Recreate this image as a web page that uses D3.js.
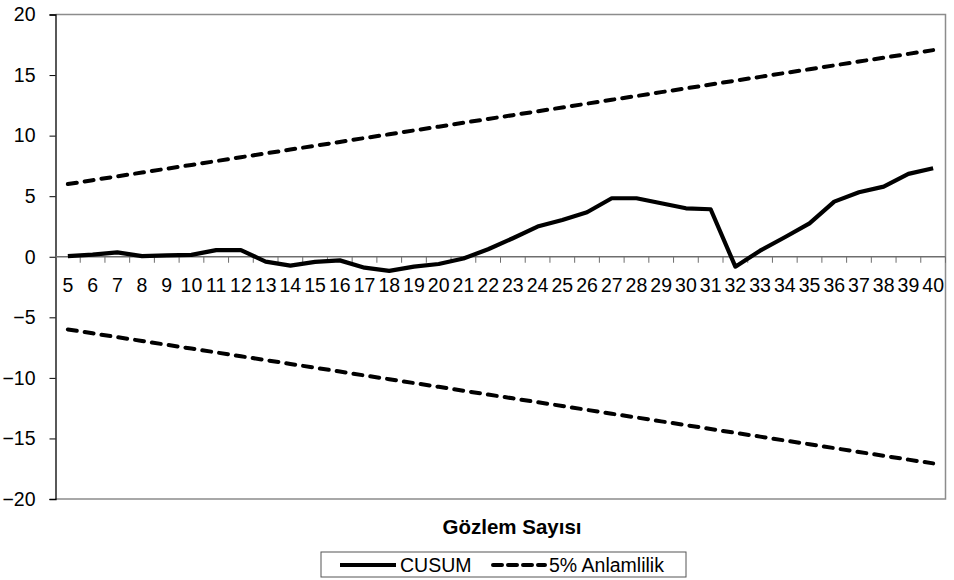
<!DOCTYPE html>
<html>
<head>
<meta charset="utf-8">
<script src="https://cdn.jsdelivr.net/npm/d3@7"></script>
<style>
  html, body { margin: 0; padding: 0; background: #fff; }
  svg { display: block; font-family: "Liberation Sans", Arial, sans-serif; }
</style>
</head>
<body>
<svg id="chart" width="954" height="580"></svg>
<script>
// Observation numbers on the x axis
const observations = [5,6,7,8,9,10,11,12,13,14,15,16,17,18,19,20,21,22,23,24,25,26,27,28,29,30,31,32,33,34,35,36,37,38,39,40];

// CUSUM statistic for each observation
const cusum = [0.05,0.18,0.36,0.05,0.12,0.15,0.55,0.55,-0.40,-0.73,-0.42,-0.30,-0.90,-1.17,-0.82,-0.60,-0.15,0.62,1.53,2.49,3.04,3.67,4.83,4.83,4.42,4.00,3.92,-0.82,0.50,1.61,2.76,4.55,5.32,5.79,6.84,7.31];

// 5% significance bounds
const upperBound = [6.00,6.32,6.64,6.95,7.27,7.58,7.90,8.22,8.53,8.85,9.16,9.48,9.80,10.11,10.43,10.74,11.06,11.38,11.69,12.01,12.32,12.64,12.96,13.27,13.59,13.90,14.22,14.54,14.85,15.17,15.48,15.80,16.12,16.43,16.75,17.06];
const lowerBound = [-6.00,-6.32,-6.64,-6.95,-7.27,-7.58,-7.90,-8.22,-8.53,-8.85,-9.16,-9.48,-9.80,-10.11,-10.43,-10.74,-11.06,-11.38,-11.69,-12.01,-12.32,-12.64,-12.96,-13.27,-13.59,-13.90,-14.22,-14.54,-14.85,-15.17,-15.48,-15.80,-16.12,-16.43,-16.75,-17.06];

// Y axis ticks
const yTicks = [-20,-15,-10,-5,0,5,10,15,20];

const xTitle = "Gözlem Sayısı";
const seriesNames = ["CUSUM", "5% Anlamlilik"];

const svg = d3.select("#chart");
const plot = { left: 55.5, right: 945.5, top: 14.5, bottom: 499 };
const labelSize = 19.5;

const x = d3.scaleBand()
  .domain(observations)
  .range([plot.left, plot.right])
  .paddingInner(0).paddingOuter(0);

const y = d3.scaleLinear()
  .domain([-20, 20])
  .range([plot.bottom, plot.top]);

const cx = d => x(d) + x.bandwidth() / 2;

// plot frame (top, right, bottom in gray)
svg.append("path")
  .attr("d", `M${plot.left},${plot.top}H${plot.right}V${plot.bottom}H${plot.left}`)
  .attr("fill", "none")
  .attr("stroke", "#8c8c8c")
  .attr("stroke-width", 1.5);

// Y axis
const yAxis = d3.axisLeft(y).tickValues(yTicks).tickSize(6).tickPadding(14).tickFormat(d3.format("d"));
const gy = svg.append("g").attr("transform", `translate(${plot.left},0)`).call(yAxis);
gy.select(".domain").attr("stroke", "#000").attr("stroke-width", 1.3);
gy.selectAll(".tick line").attr("stroke", "#000").attr("stroke-width", 1);
gy.selectAll(".tick text")
  .attr("font-size", labelSize)
  .attr("fill", "#000")
  .attr("font-family", "'Liberation Sans', Arial, sans-serif");

// X axis along zero line, ticks at category boundaries
const zeroY = y(0);
const gx = svg.append("g").attr("transform", `translate(0,${zeroY})`);
gx.append("line")
  .attr("x1", plot.left).attr("x2", plot.right)
  .attr("stroke", "#6e6e6e").attr("stroke-width", 1.3);
observations.forEach(d => {
  const bx = x(d) + x.bandwidth();
  gx.append("line")
    .attr("x1", bx).attr("x2", bx)
    .attr("y1", 0).attr("y2", 6)
    .attr("stroke", "#6e6e6e").attr("stroke-width", 1);
});
gx.selectAll("text.xl")
  .data(observations)
  .join("text")
  .attr("class", "xl")
  .attr("x", d => cx(d))
  .attr("y", 35.5)
  .attr("text-anchor", "middle")
  .attr("font-size", labelSize)
  .attr("fill", "#000")
  .text(d => d);

// Lines
const line = d3.line().x((d, i) => cx(observations[i])).y(d => y(d));

svg.append("path").datum(upperBound)
  .attr("d", line).attr("fill", "none")
  .attr("stroke", "#000").attr("stroke-width", 4)
  .attr("stroke-dasharray", "9,8").attr("stroke-linecap", "round");

svg.append("path").datum(lowerBound)
  .attr("d", line).attr("fill", "none")
  .attr("stroke", "#000").attr("stroke-width", 4)
  .attr("stroke-dasharray", "9,8").attr("stroke-linecap", "round");

svg.append("path").datum(cusum)
  .attr("d", line).attr("fill", "none")
  .attr("stroke", "#000").attr("stroke-width", 4.2)
  .attr("stroke-linejoin", "round");

// X axis title
svg.append("text")
  .attr("x", 512).attr("y", 534)
  .attr("text-anchor", "middle")
  .attr("font-size", 20.5).attr("font-weight", "bold")
  .attr("fill", "#000")
  .text(xTitle);

// Legend
const lg = svg.append("g");
lg.append("rect")
  .attr("x", 321).attr("y", 552).attr("width", 365).attr("height", 25)
  .attr("fill", "#fff").attr("stroke", "#555").attr("stroke-width", 1);
lg.append("line")
  .attr("x1", 340).attr("x2", 396).attr("y1", 565).attr("y2", 565)
  .attr("stroke", "#000").attr("stroke-width", 4);
lg.append("text")
  .attr("x", 400).attr("y", 572)
  .attr("font-size", labelSize).attr("fill", "#000")
  .text(seriesNames[0]);
lg.append("line")
  .attr("x1", 493).attr("x2", 545).attr("y1", 565).attr("y2", 565)
  .attr("stroke", "#000").attr("stroke-width", 4)
  .attr("stroke-dasharray", "9,6").attr("stroke-linecap", "round");
lg.append("text")
  .attr("x", 549).attr("y", 572)
  .attr("font-size", labelSize).attr("fill", "#000")
  .text(seriesNames[1]);
</script>
</body>
</html>
